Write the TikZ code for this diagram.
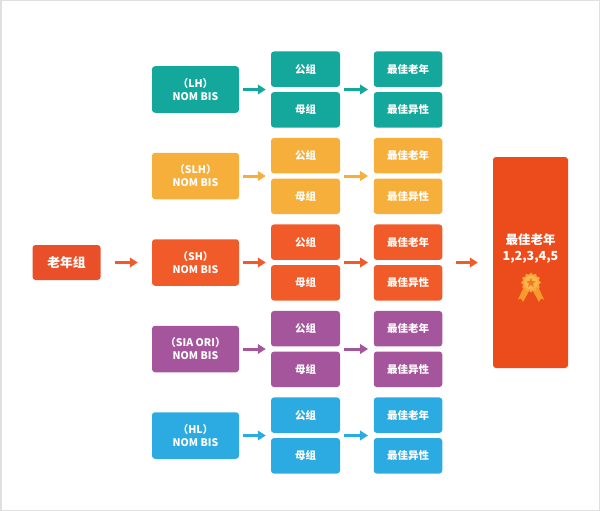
\documentclass[tikz,border=0pt]{standalone}
\usepackage{fontspec}
\setmainfont{Noto Sans CJK SC}
\usetikzlibrary{arrows.meta,shapes.geometric,calc}
\definecolor{cteal}{HTML}{14A79B}
\definecolor{cyel}{HTML}{F7AF3C}
\definecolor{cred}{HTML}{F15A29}
\definecolor{cold}{HTML}{E9502A}
\definecolor{cbig}{HTML}{EC4B1C}
\definecolor{cpur}{HTML}{A5559B}
\definecolor{cblue}{HTML}{2CABE2}
\definecolor{mgold}{HTML}{F9A63A}
\definecolor{mgoldl}{HTML}{FBB54C}
\definecolor{mstar}{HTML}{EE7A24}
\definecolor{mrib}{HTML}{F79A2E}
\tikzset{
  box/.style={rounded corners=3pt, inner sep=0pt, text=white, font=\bfseries\fontsize{10.5}{13}\selectfont, align=center},
  catbox/.style={box, minimum width=87pt, minimum height=46.5pt},
  subbox/.style={box, minimum width=69pt, minimum height=35.5pt},
  resbox/.style={box, minimum width=68.5pt, minimum height=35.5pt},
  arr/.style={line width=3pt, -{Triangle[length=8pt,width=9.5pt]}},
}
\begin{document}
\begin{tikzpicture}[x=1pt,y=-1pt]
\useasboundingbox (0,0) rectangle (600,511);
\draw[line width=1.5pt, color=black!12] (0.75,0.75) rectangle (599.25,510.25);

\node[box, fill=cold, minimum width=68pt, minimum height=35pt, font=\bfseries\fontsize{12.8}{15}\selectfont] (old) at (66.5,262.5) {老年组};

\node[box, fill=cbig, minimum width=75pt, minimum height=211pt] (big) at (530.5,262.5) {};
\node[box, font=\bfseries\fontsize{12.5}{16}\selectfont] (bigtxt) at (530.5,249) {最佳老年\\1,2,3,4,5};

% medal
\begin{scope}[shift={(531,282.5)}]
  \fill[mrib] (-7,4) -- (-13,17) -- (-10,16) -- (-8,19.5) -- (-1,7) -- cycle;
  \fill[mrib] (7,4) -- (13,17) -- (10,16) -- (8,19.5) -- (1,7) -- cycle;
  \fill[mgold] plot[domain=0:360, samples=145, smooth cycle] ({cos(\x)*(9+0.8*cos(12*\x))},{sin(\x)*(9+0.8*cos(12*\x))});
  \fill[mgoldl] (0,0) circle (6.8pt);
  \node[star, star points=5, star point ratio=2.3, fill=mstar, inner sep=0pt, minimum size=10pt] (mstar) at (0,0.4) {};
\end{scope}

\foreach \i/\cy/\lab/\col in {1/89.5/（LH）/cteal, 2/176/（SLH）/cyel, 3/262.5/（SH）/cred, 4/349/（SIA ORI）/cpur, 5/435.5/（HL）/cblue}{
  \node[catbox, fill=\col] (c\i) at (195.5,\cy) {\lab\\NOM BIS};
  \node[subbox, fill=\col] (g\i a) at (305.5,\cy-20.3) {公组};
  \node[subbox, fill=\col] (g\i b) at (305.5,\cy+20.3) {母组};
  \node[resbox, fill=\col] (r\i a) at (408,\cy-20.3) {最佳老年};
  \node[resbox, fill=\col] (r\i b) at (408,\cy+20.3) {最佳异性};
  \coordinate (gm\i) at ($(g\i a.south west)!0.5!(g\i b.north west)$);
  \coordinate (ge\i) at ($(g\i a.south east)!0.5!(g\i b.north east)$);
  \coordinate (rm\i) at ($(r\i a.south west)!0.5!(r\i b.north west)$);
  \draw[arr, draw=\col, fill=\col, shorten <=4pt, shorten >=5pt] (c\i.east) -- (gm\i);
  \draw[arr, draw=\col, fill=\col, shorten <=4pt, shorten >=5.5pt] (ge\i) -- (rm\i);
}
\coordinate (re3) at ($(r3a.south east)!0.5!(r3b.north east)$);
\draw[arr, draw=cred, shorten <=14pt, shorten >=14pt] (old.east) -- (c3.west);
\draw[arr, draw=cred, shorten <=14pt, shorten >=15pt] (re3) -- (big.west);
\end{tikzpicture}
\end{document}
